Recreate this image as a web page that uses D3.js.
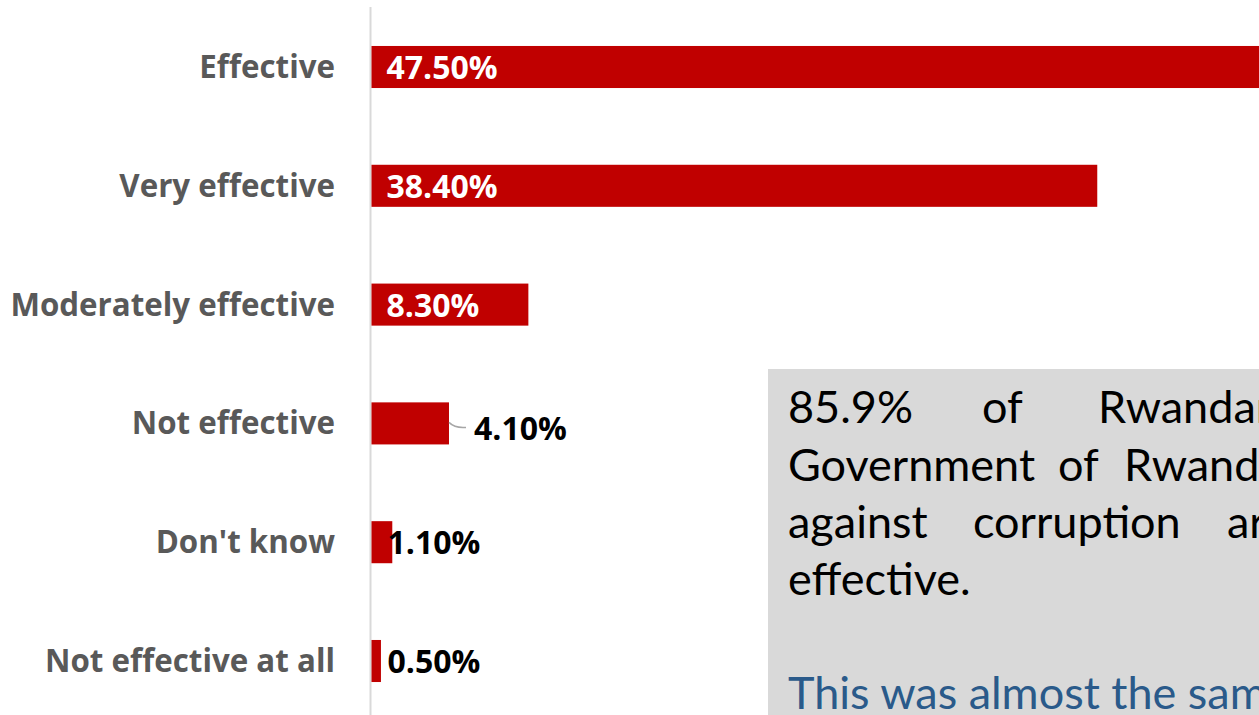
<!DOCTYPE html>
<html>
<head>
<meta charset="utf-8">
<script src="https://cdn.jsdelivr.net/npm/d3@7"></script>
<style>
  html, body { margin: 0; padding: 0; background: #fff; overflow: hidden; }
  svg { display: block; }
</style>
</head>
<body>
<svg id="chart" width="1259" height="715"></svg>
<script>
// Survey responses: perceived effectiveness of the fight against corruption
const categories = ["Effective", "Very effective", "Moderately effective", "Not effective", "Don't know", "Not effective at all"];
const values = [47.5, 38.4, 8.3, 4.1, 1.1, 0.5];
const valueLabels = ["47.50%", "38.40%", "8.30%", "4.10%", "1.10%", "0.50%"];
// Labels drawn inside the bar (white) vs. outside (black)
const insideLabel = [true, true, true, false, false, false];

// Callout text, word by word so each line can be justified
const calloutLines = [
  ["85.9%", "of", "Rwandans", "think", "the"],
  ["Government", "of", "Rwanda's", "efforts"],
  ["against", "corruption", "are", "very"],
  ["effective."]
];
const calloutNote = "This was almost the same as in the previous year.";

const W = 1259, H = 715;
const svg = d3.select("#chart");

const x0 = 371.5;
const x = d3.scaleLinear().domain([0, 1]).range([x0, x0 + 18.9]);
const y = d3.scaleBand().domain(categories).range([7.6, 720.4]).paddingInner(0.646).paddingOuter(0.323);

const labelFont = "'Open Sans', Lato, sans-serif";
const calloutFont = "Lato, 'Open Sans', sans-serif";

// Category axis line
svg.append("line")
  .attr("x1", 370.5).attr("x2", 370.5)
  .attr("y1", 7).attr("y2", H)
  .attr("stroke", "#d9d9d9").attr("stroke-width", 2);

// Bars
svg.append("g").selectAll("rect")
  .data(categories)
  .join("rect")
  .attr("x", x(0))
  .attr("y", d => y(d))
  .attr("width", (d, i) => x(values[i]) - x(0))
  .attr("height", y.bandwidth())
  .attr("fill", "#c00000");

// Category labels
svg.append("g").selectAll("text")
  .data(categories)
  .join("text")
  .attr("x", 335)
  .attr("y", d => y(d) + y.bandwidth() / 2)
  .attr("dy", "0.35em")
  .attr("text-anchor", "end")
  .attr("font-family", labelFont)
  .attr("font-weight", "bold")
  .attr("font-size", 31.3)
  .attr("fill", "#595959")
  .text(d => d);

// Leader line for the "Not effective" label
const ne = categories.indexOf("Not effective");
{
  const bx = x(values[ne]);
  const by = y(categories[ne]) + y.bandwidth() / 2;
  svg.append("path")
    .attr("d", `M${bx},${by - 1} Q${bx + 6},${by + 5} ${bx + 17},${by + 4}`)
    .attr("fill", "none")
    .attr("stroke", "#a6a6a6")
    .attr("stroke-width", 1.5);
}

// Value labels
svg.append("g").selectAll("text")
  .data(categories)
  .join("text")
  .attr("x", (d, i) => {
    if (insideLabel[i]) return x(0) + 15;
    if (i === ne) return x(values[i]) + 25;
    return x(0) + 16;
  })
  .attr("y", (d, i) => y(d) + y.bandwidth() / 2 + (i === ne ? 5 : 1))
  .attr("dy", "0.35em")
  .attr("font-family", labelFont)
  .attr("font-weight", "bold")
  .attr("font-size", 32)
  .attr("fill", (d, i) => insideLabel[i] ? "#ffffff" : "#000000")
  .text((d, i) => valueLabels[i]);

// Callout box
const box = svg.append("g");
box.append("rect")
  .attr("x", 768).attr("y", 369)
  .attr("width", 620).attr("height", 400)
  .attr("fill", "#d9d9d9");

// Justified word starts for each callout line
const wordX = [
  [788, 982, 1098, 1330, 1460],
  [788, 1058, 1124, 1330],
  [788, 973, 1227, 1320],
  [788]
];
const baselines = [423, 481, 538, 595];
calloutLines.forEach((words, li) => {
  const t = box.append("text")
    .attr("y", baselines[li])
    .attr("font-family", calloutFont)
    .attr("font-size", 45)
    .attr("fill", "#000000");
  words.forEach((w, wi) => {
    t.append("tspan").attr("x", wordX[li][wi]).text(w);
  });
});

box.append("text")
  .attr("x", 788).attr("y", 709)
  .attr("font-family", calloutFont)
  .attr("font-size", 45)
  .attr("fill", "#2a5a8a")
  .text(calloutNote);
</script>
</body>
</html>
